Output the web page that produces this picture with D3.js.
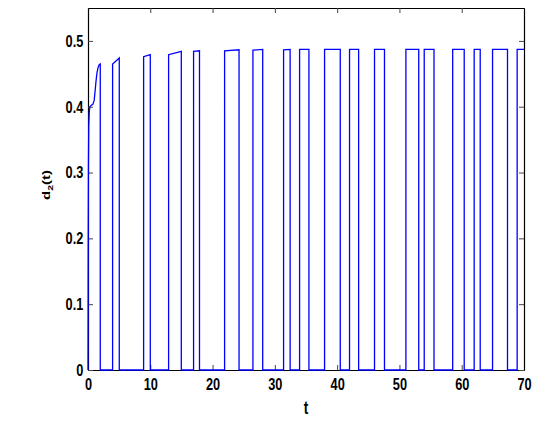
<!DOCTYPE html>
<html><head><meta charset="utf-8">
<script src="https://d3js.org/d3.v7.min.js"></script>
<style>
body{margin:0;background:#fff;}
svg text{font-family:"Liberation Sans",Arial,Helvetica,sans-serif;font-weight:bold;fill:#000;}
</style></head><body>
<svg id="c" width="544" height="423"></svg>
<script>
// initial rise of d2(t) during the first "on" interval
const riseT = [0, 0.03, 0.07, 0.12, 0.2, 0.3, 0.5, 0.8, 1.0, 1.15, 1.3, 1.45, 1.6, 1.8, 1.97];
const riseD = [0, 0.18, 0.31, 0.37, 0.392, 0.400, 0.402, 0.404, 0.41, 0.425, 0.44, 0.452, 0.459, 0.464, 0.465];
// subsequent pulses: switch-on time, switch-off time, level at on, level at off
const onTimes   = [3.95, 8.93, 12.94, 16.95, 21.93, 26.48, 31.40, 33.97, 37.98, 41.99, 46.00, 51.04, 53.98, 58.55, 62.00, 64.95, 68.90];
const offTimes  = [5.02, 10.00, 14.98, 17.90, 24.25, 28.05, 32.45, 35.47, 40.50, 43.45, 47.60, 53.10, 55.55, 60.40, 62.97, 67.35, 70.00];
const onLevels  = [0.465, 0.476, 0.479, 0.484, 0.485, 0.486, 0.4865, 0.487, 0.487, 0.487, 0.487, 0.487, 0.487, 0.487, 0.487, 0.487, 0.487];
const offLevels = [0.474, 0.479, 0.484, 0.485, 0.4865, 0.487, 0.487, 0.487, 0.487, 0.487, 0.487, 0.487, 0.487, 0.487, 0.487, 0.487, 0.487];
const xTicks = [0, 10, 20, 30, 40, 50, 60, 70];
const yTicks = [0, 0.1, 0.2, 0.3, 0.4, 0.5];

const pts = riseT.map((t, i) => [t, riseD[i]]);
pts.push([riseT[riseT.length - 1], 0]);
onTimes.forEach((t, i) => {
  pts.push([t, 0], [t, onLevels[i]], [offTimes[i], offLevels[i]]);
  if (offTimes[i] < 70) pts.push([offTimes[i], 0]);
});

const L = 88, R = 524, T = 8, B = 370;
const SX = 0.75; // horizontal squeeze of the lettering
const x = d3.scaleLinear().domain([0, 70]).range([L, R]);
const y = d3.scaleLinear().domain([0, 0.55]).range([B, T]);
const svg = d3.select("#c");

const fmtY = d => d === 0 ? "0" : d3.format(".1f")(d);

function styleAxis(g) {
  g.select(".domain").attr("stroke", "#000").attr("stroke-width", 1.2);
  g.selectAll(".tick line").attr("stroke", "#444").attr("stroke-width", 1);
}

svg.append("g").attr("transform", `translate(0,${B})`)
  .call(d3.axisBottom(x).tickValues(xTicks).tickSizeInner(-5).tickSizeOuter(0).tickPadding(8).tickFormat(d3.format("d")))
  .call(styleAxis)
  .call(g => g.selectAll(".tick text").attr("font-size", 17).attr("font-family", null)
    .attr("transform", `scale(${SX},1)`));
svg.append("g").attr("transform", `translate(0,${T})`)
  .call(d3.axisTop(x).tickValues(xTicks).tickSizeInner(-5).tickSizeOuter(0).tickFormat(""))
  .call(styleAxis);
svg.append("g").attr("transform", `translate(${L},0)`)
  .call(d3.axisLeft(y).tickValues(yTicks).tickSizeInner(-5).tickSizeOuter(0).tickPadding(5).tickFormat(fmtY))
  .call(styleAxis)
  .call(g => g.selectAll(".tick text").attr("font-size", 17).attr("font-family", null)
    .attr("x", -4.7 / SX).attr("transform", `scale(${SX},1)`));
svg.append("g").attr("transform", `translate(${R},0)`)
  .call(d3.axisRight(y).tickValues(yTicks).tickSizeInner(-5).tickSizeOuter(0).tickFormat(""))
  .call(styleAxis);

svg.append("path").datum(pts)
  .attr("fill", "none").attr("stroke", "#0000ff").attr("stroke-width", 1.3)
  .attr("d", d3.line().x(d => x(d[0])).y(d => y(d[1])));

svg.append("text").attr("transform", `translate(${(L + R) / 2},414) scale(${SX},1)`)
  .attr("text-anchor", "middle").attr("font-size", 18).text("t");
const yl = svg.append("text").attr("transform", `translate(50,185) scale(${SX},1) rotate(-90)`)
  .attr("text-anchor", "middle").attr("font-size", 15);
yl.append("tspan").text("d");
yl.append("tspan").attr("font-size", 10.5).attr("dy", 4).text("2");
yl.append("tspan").attr("dy", -4).text("(t)");
</script>
</body></html>
